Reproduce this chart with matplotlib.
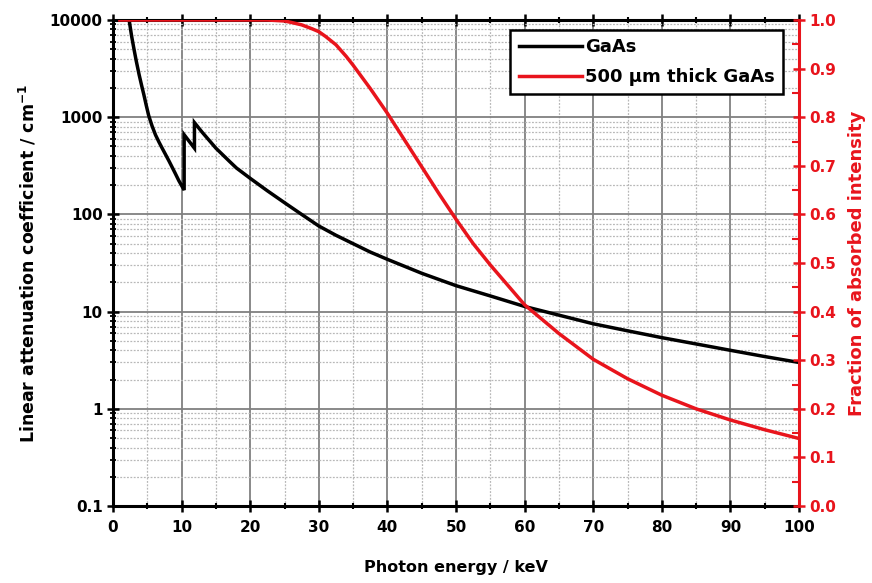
import numpy as np
import matplotlib
matplotlib.use("Agg")
import matplotlib.pyplot as plt
from matplotlib.ticker import FixedLocator, NullFormatter, LogLocator

plt.rcParams['font.family'] = ['DejaVu Sans']
plt.rcParams['font.weight'] = 'bold'

# ---- data ----
energy_gaas = [2.35, 2.7, 3.06, 3.4, 3.8, 4.15, 4.5, 4.85, 5.2, 5.7, 6.2, 6.7, 7.2, 7.7,
               8.2, 8.7, 9.1, 9.6, 10.37,
               10.37, 11.87,
               11.87, 13, 14, 15, 16, 17, 18, 20, 22.5, 25, 27.5, 30, 32.5, 35, 37.5, 40,
               45, 50, 55, 60, 65, 70, 75, 80, 85, 90, 95, 100]
mu_gaas = [10000, 6900, 5000, 3750, 2750, 2150, 1700, 1320, 1040, 810, 656, 555, 475, 408,
           350, 298, 262, 222, 178,
           660, 480,
           880, 700, 580, 480, 410, 350, 300, 235, 175, 132, 100, 76, 61, 50, 41, 34.5,
           24.8, 18.5, 14.5, 11.3, 9.2, 7.5, 6.35, 5.4, 4.65, 4.0, 3.45, 3.0]

energy_abs = [1, 20, 22.5, 25, 26, 27.5, 29, 30, 31, 32.5, 34, 35, 37.5, 40, 42.5, 45,
              47.5, 50, 52.5, 55, 57.5, 60, 65, 70, 75, 80, 85, 90, 95, 100]
frac_abs = [1.0, 1.0, 1.0, 0.998, 0.995, 0.99, 0.982, 0.976, 0.966, 0.949, 0.925, 0.907,
            0.859, 0.808, 0.753, 0.698, 0.643, 0.590, 0.540, 0.496, 0.455, 0.414, 0.355,
            0.302, 0.262, 0.228, 0.200, 0.177, 0.157, 0.139]

x_ticks = [0, 10, 20, 30, 40, 50, 60, 70, 80, 90, 100]
y_ticks = [0.1, 1, 10, 100, 1000, 10000]
y_ticklabels = ['0.1', '1', '10', '100', '1000', '10000']
y2_ticks = [0.0, 0.1, 0.2, 0.3, 0.4, 0.5, 0.6, 0.7, 0.8, 0.9, 1.0]

RED = '#e8141c'

fig = plt.figure(figsize=(8.72, 5.83), dpi=100)
ax = fig.add_axes([0.1296, 0.132, 0.7867, 0.8337])
ax2 = ax.twinx()

ax.set_yscale('log')
ax.set_xlim(0, 100)
ax.set_ylim(0.1, 10000)

l1, = ax.plot(energy_gaas, mu_gaas, color='black', lw=2.5, label='GaAs', zorder=3,
              solid_joinstyle='miter')
l2, = ax2.plot(energy_abs, frac_abs, color=RED, lw=2.5, label='500 µm thick GaAs', zorder=3)
ax2.set_ylim(0, 1.0)

# ticks & grid
ax.xaxis.set_major_locator(FixedLocator(x_ticks))
ax.xaxis.set_minor_locator(FixedLocator(np.arange(5, 100, 10)))
ax.set_yticks(y_ticks)
ax.set_yticklabels(y_ticklabels)
ax.yaxis.set_minor_locator(LogLocator(base=10, subs=np.arange(2, 10)))
ax.yaxis.set_minor_formatter(NullFormatter())

ax.grid(which='major', color='#808080', lw=1.3, ls='-')
ax.grid(which='minor', color='#b8b8b8', lw=0.9, ls=(0, (1.5, 1.2)))
ax.set_axisbelow(True)

ax.tick_params(axis='both', which='major', direction='inout', length=8, width=1.8,
               labelsize=11, top=True, colors='black')
ax.tick_params(axis='x', which='minor', direction='inout', length=5, width=1.5, top=True)
ax.tick_params(axis='y', which='minor', direction='inout', length=5, width=1.3)
ax.tick_params(axis='x', pad=6)

ax2.set_yticks(y2_ticks)
ax2.set_yticklabels([f'{v:.1f}' for v in y2_ticks])
ax2.yaxis.set_minor_locator(FixedLocator(np.arange(0.05, 1.0, 0.1)))
ax2.tick_params(axis='y', which='major', direction='inout', length=8, width=1.8,
                colors=RED, labelsize=11)
ax2.tick_params(axis='y', which='minor', direction='in', length=5, width=1.5, colors=RED)

for s in ['left', 'bottom', 'top']:
    ax.spines[s].set_linewidth(2.2)
    ax.spines[s].set_color('black')
ax.spines['right'].set_visible(False)
for s in ['left', 'bottom', 'top']:
    ax2.spines[s].set_visible(False)
ax2.spines['right'].set_linewidth(2.2)
ax2.spines['right'].set_color(RED)

for lab in ax.get_xticklabels() + ax.get_yticklabels() + ax2.get_yticklabels():
    lab.set_fontweight('bold')

ax.set_xlabel('Photon energy / keV', fontsize=11.5, fontweight='bold', labelpad=18)
ax.set_ylabel('Linear attenuation coefficient / cm$^{\\mathbf{-1}}$', fontsize=12.5,
              fontweight='bold', labelpad=8)
ax2.set_ylabel('Fraction of absorbed intensity', fontsize=13, fontweight='bold',
               color=RED, labelpad=8)

leg = ax2.legend(handles=[l1, l2], loc='upper right', bbox_to_anchor=(0.977, 0.979),
                 fancybox=False, framealpha=1, edgecolor='black', handlelength=3.5,
                 prop={'weight': 'bold', 'size': 13}, borderpad=0.45,
                 labelspacing=0.65, handletextpad=0.2, borderaxespad=0)
leg.get_frame().set_linewidth(1.8)

fig.savefig('out.png', dpi=100)
